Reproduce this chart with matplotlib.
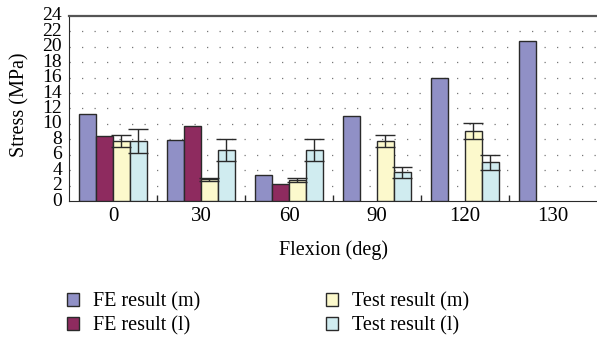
import numpy as np
import matplotlib
matplotlib.use("Agg")
import matplotlib.pyplot as plt
from matplotlib.patches import Patch
from matplotlib.ticker import FixedLocator

# Knee stress at each flexion angle: finite-element model vs. test
flexion = ["0", "30", "60", "90", "120", "130"]
fe_m = [11.3, 7.9, 3.4, 11.0, 16.0, 20.8]
fe_l = [8.4, 9.7, 2.2, np.nan, np.nan, np.nan]
test_m = [7.8, 2.8, 2.7, 7.8, 9.1, np.nan]
test_m_err = [0.8, 0.2, 0.25, 0.8, 1.0, np.nan]
test_l = [7.8, 6.6, 6.6, 3.7, 5.0, np.nan]
test_l_err = [1.55, 1.4, 1.4, 0.65, 0.95, np.nan]

series = [
    ("FE result (m)", fe_m, None, "#9090c6"),
    ("FE result (l)", fe_l, None, "#8e2b5f"),
    ("Test result (m)", test_m, test_m_err, "#fcf9cc"),
    ("Test result (l)", test_l, test_l_err, "#d0ecf0"),
]

plt.rcParams["font.family"] = ["Liberation Serif", "DejaVu Serif"]

fig = plt.figure(figsize=(5.97, 3.39), dpi=100)
ax = fig.add_axes([0.1156, 0.407, 0.8844, 0.546])

x = np.arange(len(flexion)) + 0.5
width = 0.1925
edge = "#2a2a2a"
handles = []
for i, (name, vals, err, color) in enumerate(series):
    pos = x + (i - 1.5) * width
    ax.bar(pos, vals, width, color=color, edgecolor=edge, linewidth=1.0, zorder=3)
    if err is not None:
        ax.errorbar(pos, vals, yerr=err, fmt="none", ecolor=edge,
                    elinewidth=1.0, capsize=7, capthick=1.0, zorder=4)
    handles.append(Patch(facecolor=color, edgecolor=edge, linewidth=1.0, label=name))

ax.set_xlim(0, len(flexion))
ax.set_ylim(0, 24)
ax.set_yticks(np.arange(0, 25, 2))
ax.set_xticks(x)
ax.set_xticklabels(flexion, fontsize=15)
ax.xaxis.set_minor_locator(FixedLocator(np.arange(1, len(flexion))))
ax.tick_params(axis="x", which="major", length=0, pad=4)
ax.tick_params(axis="x", which="minor", direction="in", length=4.5, width=1.0, color=edge)
ax.tick_params(axis="y", length=0, pad=5, labelsize=14)
for lbl in ax.get_yticklabels():
    lbl.set_verticalalignment("center")

# sparse dotted horizontal grid
for yv in np.arange(2, 24, 2):
    ax.axhline(yv, color="#777777", linewidth=0.9, dashes=(1.0, 9.0), zorder=1)

ax.spines["right"].set_visible(False)
ax.spines["top"].set_color("#555555")
ax.spines["top"].set_linewidth(1.6)
ax.spines["left"].set_color(edge)
ax.spines["bottom"].set_color(edge)

ax.set_xlabel("Flexion (deg)", fontsize=14.5, va="center")
ax.set_ylabel("Stress (MPa)", fontsize=14.5, va="center")
ax.xaxis.set_label_coords(0.5, -0.265)
ax.yaxis.set_label_coords(-0.093, 0.52)

fig.legend(handles=handles, ncol=2, loc="upper left", bbox_to_anchor=(0.095, 0.167),
           frameon=False, fontsize=14.5, handlelength=0.6, handleheight=0.6,
           handletextpad=0.7, columnspacing=6.25, labelspacing=0.22, borderpad=0)

fig.savefig("out.png", dpi=100)
